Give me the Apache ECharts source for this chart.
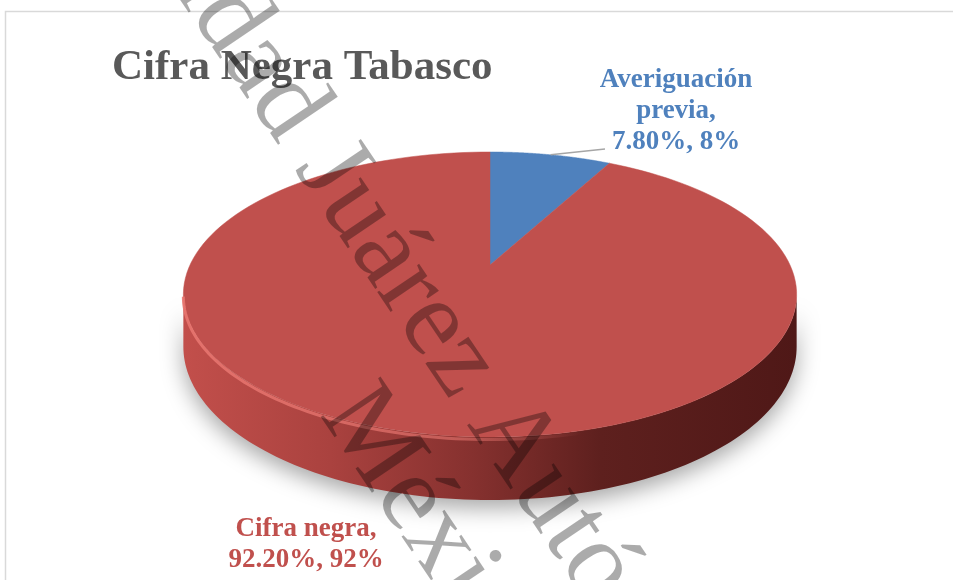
<!DOCTYPE html>
<html><head><meta charset="utf-8">
<script src="https://cdn.jsdelivr.net/npm/echarts@6/dist/echarts.min.js"></script>
<style>html,body{margin:0;padding:0;background:#fff}#main{width:953px;height:580px}</style>
</head><body><div id="main"></div>
<script>
// ---- data ----
const categories = ['Averiguación previa', 'Cifra negra'];
const values = [7.8, 92.2];
const labelNames = ['Averiguación\nprevia,', 'Cifra negra,'];
const titleText = 'Cifra Negra Tabasco';
const watermarkLines = ['Universidad Juárez Autónoma de Tabasco', 'México'];

// ---- style / layout ----
const colors = ['#4f81bd', '#c0504d'];
const labelColors = ['#4f81bd', '#c0504d'];
const G = {cx: 490, cy: 265, A: 300, B: 136.4, k: 0.207, T: 50};
const labelPos = [[676, 111], [306, 545]];
const leaderEnd = [[605, 149], null];

const total = values.reduce((a, b) => a + b, 0);

function proj(theta, r, depth) {
  const u = Math.sin(theta) * r, v = -Math.cos(theta) * r;
  const s = 1 / (1 - G.k * v);
  return [G.cx + G.A * u * s, G.cy + G.B * v * s + depth * s];
}
function arc(t0, t1, r, depth, n) {
  const pts = [];
  for (let j = 0; j <= n; j++) pts.push(proj(t0 + (t1 - t0) * j / n, r, depth));
  return pts;
}
const thR = Math.acos(-G.k), thL = 2 * Math.PI - thR;

const chart = echarts.init(document.getElementById('main'));
const wmRot = -56 * Math.PI / 180;

chart.setOption({
  animation: false,
  backgroundColor: '#ffffff',
  graphic: [
    {type: 'rect', silent: true, z: -10, shape: {x: 5.5, y: 11.5, width: 1200, height: 1200},
     style: {fill: 'none', stroke: '#d9d9d9', lineWidth: 1.5}},
    {type: 'text', x: 112, y: 68, z: 5,
     style: {text: titleText, font: 'bold 43px "Liberation Serif"', fill: '#595959',
             textAlign: 'left', textVerticalAlign: 'middle', align: 'left', verticalAlign: 'middle'}},
    {type: 'text', x: 2, y: -316, rotation: wmRot, z: 100, silent: true,
     style: {text: watermarkLines[0], font: '110px "Liberation Serif"', fill: 'rgba(0,0,0,0.33)',
             textAlign: 'left', textVerticalAlign: 'middle', align: 'left', verticalAlign: 'middle'}},
    {type: 'text', x: 343, y: 398, rotation: wmRot, z: 100, silent: true,
     style: {text: watermarkLines[1], font: '110px "Liberation Serif"', fill: 'rgba(0,0,0,0.33)',
             textAlign: 'left', textVerticalAlign: 'middle', align: 'left', verticalAlign: 'middle'}}
  ],
  series: [{
    type: 'custom',
    coordinateSystem: 'none',
    data: values.map((v, i) => ({name: categories[i], value: v})),
    renderItem: function (params, api) {
      const i = params.dataIndex;
      const val = api.value(0);
      let before = 0;
      for (let j = 0; j < i; j++) before += values[j];
      const t0 = before / total * 2 * Math.PI;
      const t1 = (before + val) / total * 2 * Math.PI;
      const children = [];
      // side wall (front visible part)
      const a = Math.max(t0, thR), b = Math.min(t1, thL);
      if (b > a) {
        const side = arc(a, b, 1, 0, 120).concat(arc(b, a, 1, G.T, 120));
        children.push({type: 'polygon', z2: 1, shape: {points: side},
          style: {fill: new echarts.graphic.LinearGradient(0, 0, 1, 0, [
            {offset: 0, color: '#c24f4b'}, {offset: 0.24, color: '#aa423f'},
            {offset: 0.47, color: '#86312f'}, {offset: 0.68, color: '#5e201e'},
            {offset: 1, color: '#4f1817'}]),
            shadowBlur: 22, shadowColor: 'rgba(0,0,0,0.35)', shadowOffsetY: 8}});
        children.push({type: 'polyline', z2: 12, shape: {points: arc(a, b, 1, 2, 120)},
          style: {fill: 'none', lineWidth: 3, stroke: new echarts.graphic.LinearGradient(0, 0, 1, 0, [
            {offset: 0, color: 'rgba(232,118,112,0.9)'}, {offset: 0.45, color: 'rgba(232,118,112,0.6)'},
            {offset: 0.65, color: 'rgba(232,118,112,0)'}, {offset: 1, color: 'rgba(232,118,112,0)'}])}});
      }
      // top face
      const top = [[G.cx, G.cy]].concat(arc(t0, t1, 1, 0, 160));
      children.push({type: 'polygon', z2: 10, shape: {points: top},
        style: {fill: colors[i], stroke: colors[i], lineWidth: 0.5}});
      // leader line
      if (leaderEnd[i]) {
        const mid = (t0 + t1) / 2;
        const p = proj(mid, 1, 0);
        children.push({type: 'polyline', z2: 20, shape: {points: [p, leaderEnd[i]]},
          style: {fill: 'none', stroke: '#a6a6a6', lineWidth: 1.5}});
      }
      // data label
      const pct = Math.round(val / total * 100);
      children.push({type: 'text', z2: 30, x: labelPos[i][0], y: labelPos[i][1],
        style: {text: labelNames[i] + '\n' + val.toFixed(2) + '%, ' + pct + '%',
          font: 'bold 27px "Liberation Serif"', fill: labelColors[i], lineHeight: 31,
          textAlign: 'center', textVerticalAlign: 'middle', align: 'center', verticalAlign: 'middle'}});
      return {type: 'group', children: children};
    }
  }]
});
</script>
</body></html>
